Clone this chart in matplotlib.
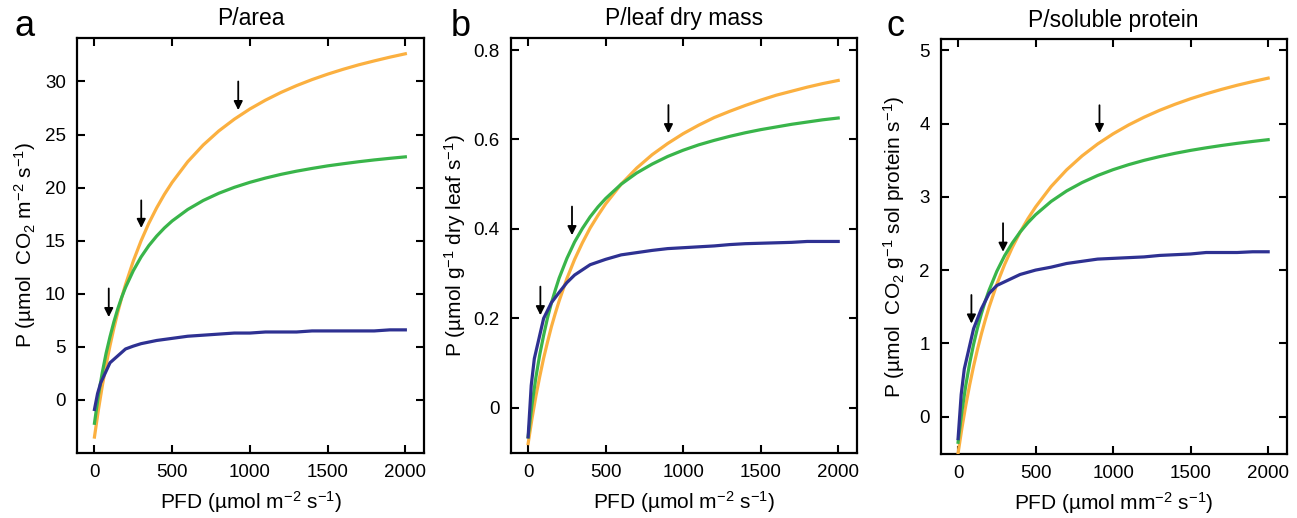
import matplotlib
matplotlib.use("Agg")
import matplotlib.pyplot as plt
from matplotlib.ticker import FixedLocator, FixedFormatter

plt.rcParams['font.family'] = ['Liberation Sans', 'DejaVu Sans']
plt.rcParams['mathtext.default'] = 'regular'

# ---------------- data ----------------
pfd = [0, 25, 50, 75, 100, 125, 150, 175, 200, 250, 300, 350, 400, 450, 500,
       600, 700, 800, 900, 1000, 1100, 1200, 1300, 1400, 1500, 1600, 1700,
       1800, 1900, 2000]
pfd_blue = [0, 20, 40, 100, 150, 200, 250, 300, 400, 500, 600, 700, 800, 900,
            1000, 1100, 1200, 1300, 1400, 1500, 1600, 1700, 1800, 1900, 2000]

# panel a : P / area
a_orange = [-3.5, -0.97, 1.28, 3.30, 5.11, 6.76, 8.25, 9.62, 10.87, 13.09,
            14.99, 16.65, 18.09, 19.37, 20.50, 22.44, 24.02, 25.34, 26.45,
            27.41, 28.24, 28.97, 29.61, 30.18, 30.69, 31.15, 31.57, 31.94,
            32.29, 32.61]
a_green = [-2.2, 0.40, 2.55, 4.40, 5.95, 7.35, 8.58, 9.66, 10.60, 12.18,
           13.47, 14.54, 15.43, 16.20, 16.86, 17.94, 18.79, 19.47, 20.03,
           20.50, 20.90, 21.25, 21.55, 21.81, 22.05, 22.25, 22.44, 22.61,
           22.76, 22.90]
a_blue = [-0.9, 0.6, 1.6, 3.5, 4.15, 4.8, 5.07, 5.3, 5.6, 5.8, 6.0, 6.1, 6.2,
          6.3, 6.3, 6.4, 6.4, 6.4, 6.5, 6.5, 6.5, 6.5, 6.5, 6.6, 6.6]

# panel b : P / leaf dry mass
b_orange = [-0.08, -0.024, 0.026, 0.070, 0.111, 0.147, 0.181, 0.211, 0.239,
            0.289, 0.332, 0.369, 0.402, 0.430, 0.456, 0.500, 0.536, 0.566,
            0.591, 0.613, 0.632, 0.649, 0.663, 0.676, 0.688, 0.699, 0.708,
            0.717, 0.725, 0.732]
b_green = [-0.065, 0.007, 0.068, 0.119, 0.162, 0.201, 0.234, 0.263, 0.290,
           0.334, 0.371, 0.401, 0.427, 0.449, 0.468, 0.500, 0.525, 0.545,
           0.562, 0.576, 0.588, 0.598, 0.607, 0.615, 0.622, 0.628, 0.634,
           0.639, 0.644, 0.648]
b_blue = [-0.065, 0.05, 0.11, 0.20, 0.235, 0.258, 0.28, 0.297, 0.32, 0.332,
          0.342, 0.347, 0.352, 0.356, 0.358, 0.36, 0.362, 0.365, 0.367, 0.368,
          0.369, 0.37, 0.372, 0.372, 0.372]

# panel c : P / soluble protein
c_orange = [-0.5, -0.153, 0.157, 0.436, 0.688, 0.917, 1.126, 1.317, 1.494,
            1.807, 2.076, 2.311, 2.517, 2.700, 2.862, 3.140, 3.368, 3.559,
            3.721, 3.860, 3.981, 4.087, 4.181, 4.264, 4.339, 4.406, 4.467,
            4.523, 4.573, 4.620]
c_green = [-0.35, 0.076, 0.431, 0.731, 0.987, 1.209, 1.403, 1.574, 1.726,
           1.984, 2.195, 2.370, 2.519, 2.646, 2.756, 2.937, 3.080, 3.195,
           3.291, 3.371, 3.439, 3.498, 3.549, 3.594, 3.634, 3.669, 3.701,
           3.730, 3.756, 3.780]
c_blue = [-0.3, 0.3, 0.65, 1.2, 1.47, 1.68, 1.79, 1.84, 1.94, 2.0, 2.04, 2.09,
          2.12, 2.15, 2.16, 2.17, 2.18, 2.2, 2.21, 2.22, 2.24, 2.24, 2.24,
          2.25, 2.25]

# arrows: (x, y_tail, y_tip)
a_arrows = [(92, 10.5, 7.8), (301, 18.8, 16.2), (925, 30.0, 27.3)]
b_arrows = [(79, 0.271, 0.207), (283, 0.45, 0.386), (905, 0.677, 0.614)]
c_arrows = [(86, 1.66, 1.27), (290, 2.64, 2.25), (912, 4.25, 3.87)]

titles = ['P/area', 'P/leaf dry mass', 'P/soluble protein']
letters = ['a', 'b', 'c']
ylabels = ['P (µmol  CO$_2$ m$^{-2}$ s$^{-1}$)',
           'P (µmol g$^{-1}$ dry leaf s$^{-1}$)',
           'P (µmol  CO$_2$ g$^{-1}$ sol protein s$^{-1}$)']
xlabels = ['PFD (µmol m$^{-2}$ s$^{-1}$)',
           'PFD (µmol m$^{-2}$ s$^{-1}$)',
           'PFD (µmol mm$^{-2}$ s$^{-1}$)']
xticks = [0, 500, 1000, 1500, 2000]
yticks = [[0, 5, 10, 15, 20, 25, 30],
          [0, 0.2, 0.4, 0.6, 0.8],
          [0, 1, 2, 3, 4, 5]]
ytick_labels = [['0', '5', '10', '15', '20', '25', '30'],
                ['0', '0.2', '0.4', '0.6', '0.8'],
                ['0', '1', '2', '3', '4', '5']]
ylims = [(-5.0, 34.1), (-0.101, 0.827), (-0.51, 5.15)]
xlim = (-112, 2120)

orange = '#FBB040'
green = '#39B54A'
blue = '#2E3192'

# ---------------- figure ----------------
fig = plt.figure(figsize=(12.97, 5.18), dpi=100)
positions = [[0.0594, 0.1255, 0.2675, 0.8012],
             [0.3938, 0.1255, 0.2668, 0.8012],
             [0.7253, 0.1236, 0.2668, 0.8005]]
letter_x = [15, 451, 886]
ylabel_pads = [5, 4, 9]

series = [(a_orange, a_green, a_blue, a_arrows),
          (b_orange, b_green, b_blue, b_arrows),
          (c_orange, c_green, c_blue, c_arrows)]

for i, (yo, yg, yb, arr) in enumerate(series):
    ax = fig.add_axes(positions[i])
    ax.plot(pfd, yo, color=orange, lw=2.3, solid_joinstyle='round', zorder=3)
    ax.plot(pfd, yg, color=green, lw=2.3, solid_joinstyle='round', zorder=4)
    ax.plot(pfd_blue, yb, color=blue, lw=2.3, solid_joinstyle='round', zorder=5)
    for (x, y0, y1) in arr:
        ax.annotate('', xy=(x, y1), xytext=(x, y0),
                    arrowprops=dict(arrowstyle='-|>', color='black', lw=1.3,
                                    mutation_scale=13, shrinkA=0, shrinkB=0),
                    zorder=6)
    ax.set_xlim(*xlim)
    ax.set_ylim(*ylims[i])
    ax.xaxis.set_major_locator(FixedLocator(xticks))
    ax.yaxis.set_major_locator(FixedLocator(yticks[i]))
    ax.yaxis.set_major_formatter(FixedFormatter(ytick_labels[i]))
    ax.tick_params(direction='in', top=True, right=True, length=6, width=1.5,
                   labelsize=13.5, pad=8, colors='black')
    for s in ax.spines.values():
        s.set_linewidth(1.6)
    ax.set_title(titles[i], fontsize=16.5, pad=9)
    ax.set_xlabel(xlabels[i], fontsize=15, labelpad=6)
    ax.set_ylabel(ylabels[i], fontsize=15, labelpad=ylabel_pads[i])
    fig.text(letter_x[i] / 1297, 1 - 36 / 518, letters[i], fontsize=26,
             ha='left', va='baseline')

fig.savefig('out.png', dpi=100)
